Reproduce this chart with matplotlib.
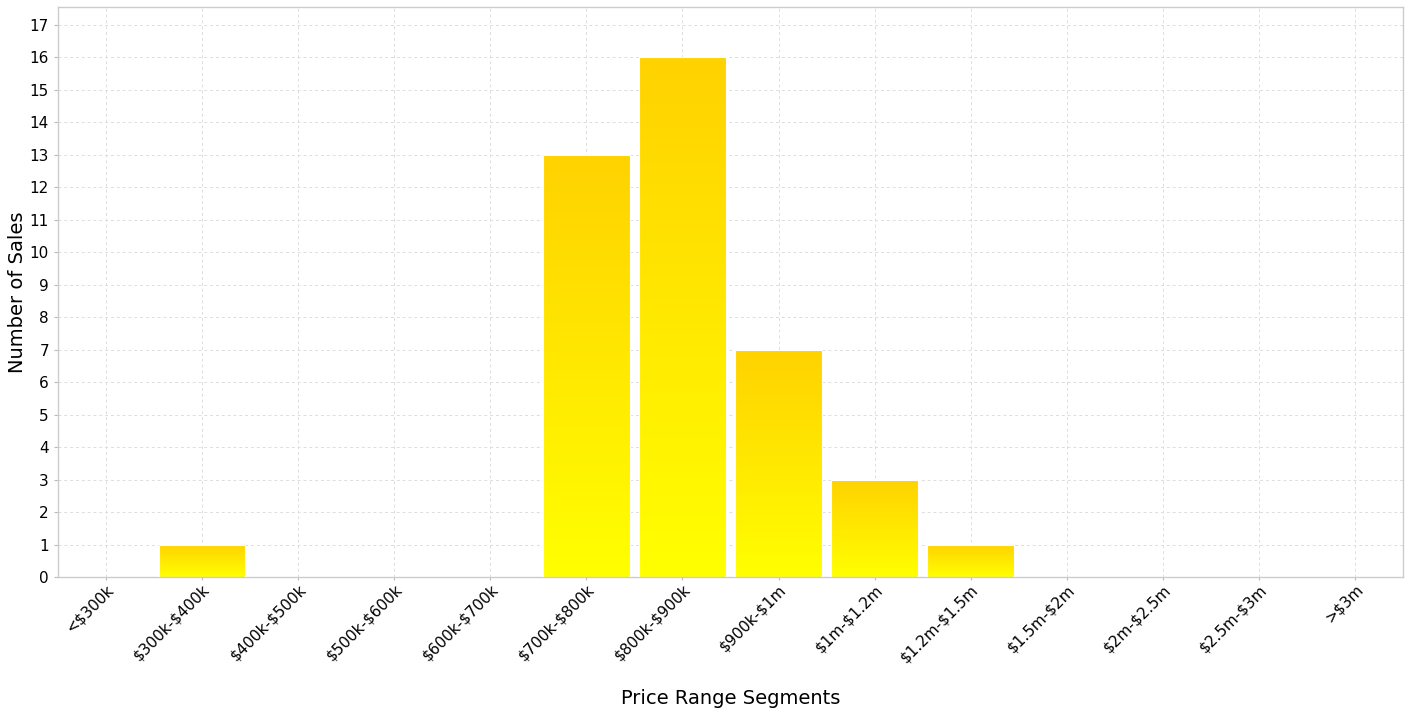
import numpy as np
import matplotlib
matplotlib.use("Agg")
import matplotlib.pyplot as plt
from matplotlib.colors import LinearSegmentedColormap

plt.rcParams["text.parse_math"] = False

categories = ["<$300k", "$300k-$400k", "$400k-$500k", "$500k-$600k", "$600k-$700k",
              "$700k-$800k", "$800k-$900k", "$900k-$1m", "$1m-$1.2m", "$1.2m-$1.5m",
              "$1.5m-$2m", "$2m-$2.5m", "$2.5m-$3m", ">$3m"]
sales = [0, 1, 0, 0, 0, 13, 16, 7, 3, 1, 0, 0, 0, 0]
yticks = list(range(0, 18))

W, H = 1419, 715
fig = plt.figure(figsize=(W / 100, H / 100), dpi=100)
ax = fig.add_axes([58 / W, (H - 577) / H, (1403 - 58) / W, (577 - 7) / H])

x = np.arange(len(categories))
bars = ax.bar(x, sales, width=0.9, color="none", edgecolor="#ffffff", linewidth=0.8, zorder=3)

cmap = LinearSegmentedColormap.from_list("gold", ["#FFFF00", "#FFD200"])
grad = np.linspace(0, 1, 256).reshape(-1, 1)
for b in bars:
    h = b.get_height()
    if h <= 0:
        continue
    x0 = b.get_x()
    w = b.get_width()
    im = ax.imshow(grad, cmap=cmap, origin="lower", aspect="auto",
                   extent=(x0, x0 + w, 0, h), zorder=2, interpolation="bilinear")
    im.set_clip_path(b)

ax.set_xlim(-0.5, len(categories) - 0.5)
ax.set_ylim(0, 17.55)
ax.set_yticks(yticks)
ax.set_xticks(x)
ax.set_xticklabels(categories, rotation=45, ha="right", rotation_mode="anchor", fontsize=11)
ax.tick_params(axis="y", labelsize=11, length=3, color="#bbbbbb")
ax.tick_params(axis="x", length=2, pad=1.5, color="#bbbbbb")
ax.grid(True, color="#dddddd", linestyle=(0, (3, 3)), linewidth=0.7, zorder=0)
ax.set_axisbelow(True)
for s in ax.spines.values():
    s.set_color("#cccccc")
    s.set_linewidth(1.0)

ax.set_ylabel("Number of Sales", fontsize=14, labelpad=2)
ax.set_xlabel("Price Range Segments", fontsize=14, labelpad=17)

fig.savefig("out.png", dpi=100)
